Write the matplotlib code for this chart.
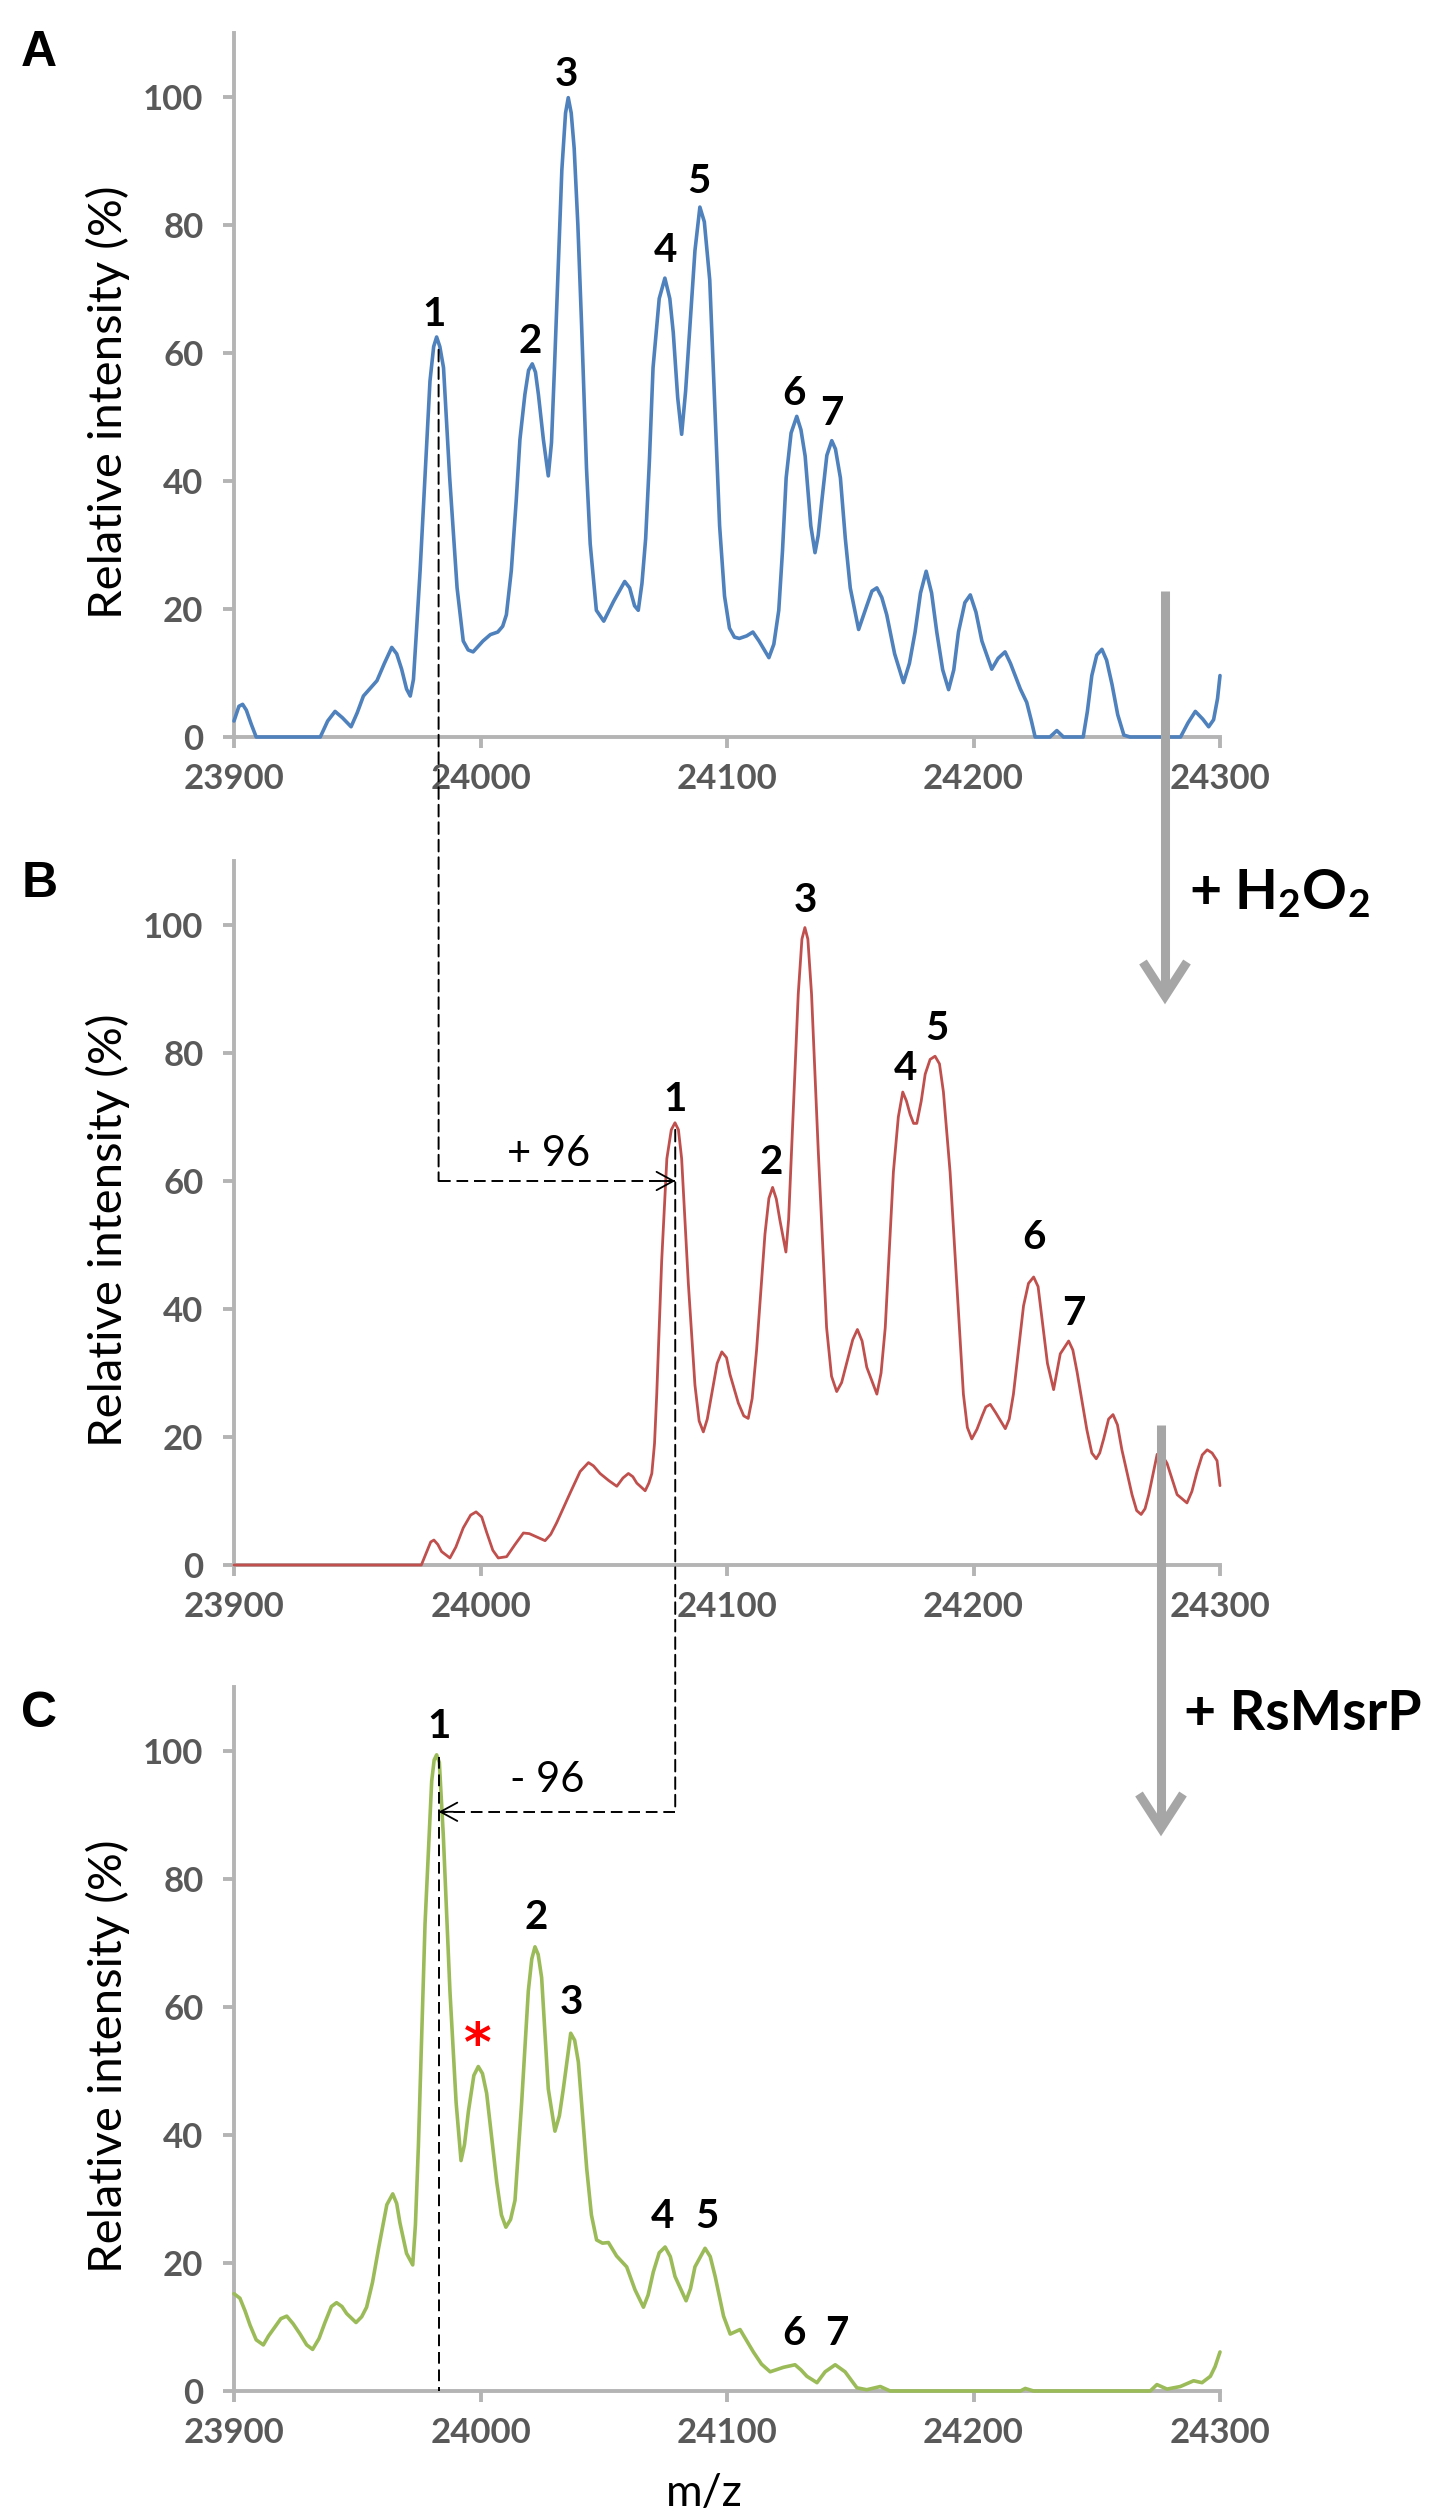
import matplotlib
matplotlib.use('Agg')
import matplotlib.pyplot as plt
from matplotlib.lines import Line2D
from matplotlib.patches import ConnectionPatch
from matplotlib import font_manager as fm

# ---------------- data ----------------
x_ticks = [23900, 24000, 24100, 24200, 24300]
y_ticks = [0, 20, 40, 60, 80, 100]
y_tick_labels = ['0', '20', '40', '60', '80', '100']
x_tick_labels = ['23900', '24000', '24100', '24200', '24300']

# Panel A (control, blue)
A_mz = [23900, 23902, 23903.5, 23905, 23907, 23909, 23935, 23938, 23941, 23944, 23947.5, 23950,
        23952.5, 23958, 23961, 23964, 23966, 23968, 23970, 23971.5, 23972.8, 23974, 23975.5, 23977,
        23979.5, 23981, 23982.2, 23983.5, 23985, 23987.5, 23990.5, 23993, 23995, 23997, 24001, 24004,
        24007, 24009, 24010.5, 24012.5, 24014.5, 24016, 24018, 24019.5, 24021, 24022.3, 24023.5,
        24025.5, 24027.5, 24028.8, 24030, 24031.5, 24033, 24034.5, 24035.6, 24036.8, 24038, 24039.5,
        24041, 24043, 24044.5, 24047, 24050, 24054, 24058.5, 24060.5, 24062.5, 24064, 24065.5, 24067,
        24068.5, 24070, 24072.5, 24074.8, 24076.8, 24078.2, 24080, 24081.6, 24083.2, 24085, 24087,
        24089, 24090.8, 24093, 24095, 24097, 24099, 24101, 24103, 24105, 24108, 24110.5, 24113, 24117,
        24119, 24121, 24122.5, 24124, 24126, 24128.3, 24130, 24131.7, 24134, 24135.7, 24137, 24138.5,
        24140.5, 24142.5, 24144, 24146, 24148, 24150, 24153.4, 24156.7, 24158.8, 24160.8, 24162.8,
        24164.8, 24168, 24171.6, 24174, 24176.3, 24178.5, 24180.8, 24183, 24185.1, 24187.5, 24189.9,
        24192, 24193.9, 24196.5, 24198.7, 24201, 24203.4, 24207.4, 24210, 24212.8, 24215, 24216.9,
        24219, 24221.6, 24223.5, 24225, 24231, 24233.8, 24236.5, 24244.5, 24246.2, 24248, 24250,
        24252.1, 24254, 24256.2, 24258.5, 24261, 24263.5, 24284, 24287, 24290, 24293, 24295.4, 24297.4,
        24299, 24300]
A_int = [2.5, 4.8, 5.1, 4.2, 2.0, 0, 0, 2.5, 4.0, 3.0, 1.6, 3.8,
         6.4, 8.8, 11.5, 14.0, 13.0, 10.6, 7.5, 6.4, 9.0, 16.4, 26, 37.0,
         55.6, 61.0, 62.5, 61.0, 57.7, 40.5, 23.3, 15.0, 13.6, 13.3, 15.0, 16.0,
         16.4, 17.3, 19.1, 26, 37.0, 46.5, 53.5, 57.3, 58.3, 57.0, 53.5,
         46.5, 40.8, 46.0, 57.6, 73, 88.6, 97.5, 99.9, 97.5, 92.0, 80,
         64.5, 42, 30.2, 19.8, 18.1, 21.2, 24.3, 23.3, 20.5, 19.8, 24, 31,
         43, 57.7, 68.5, 71.7, 68.5, 63.2, 53, 47.3, 54, 64.5, 76,
         82.8, 80.5, 71.4, 52, 33, 22, 17, 15.6, 15.4, 15.8, 16.4, 15.0, 12.4,
         14.5, 19.8, 29, 40.5, 47.5, 50.1, 48, 43.9, 33, 28.8, 31.5, 37.0,
         44, 46.3, 45, 40.5, 31, 23.3, 16.8, 20.5, 22.8, 23.3, 21.8,
         19.1, 13, 8.5, 11.5, 16.4, 22.5, 25.9, 22.5, 16.4, 10.5, 7.4,
         10.5, 16.4, 21, 22.2, 19.5, 15.0, 10.6, 12.3, 13.3, 11.5, 9.6,
         7.5, 5.4, 2.5, 0, 0, 1.0, 0, 0, 4, 9.6, 12.8,
         13.7, 12.0, 8.2, 3.5, 0.3, 0, 0, 2.2, 4.0, 2.8, 1.6, 2.7,
         6, 9.6]

# Panel B (+ H2O2, red)
B_mz = [23900, 23976, 23978.2, 23979.8, 23981.1, 23982.7, 23984.2, 23987.6, 23990, 23993, 23996,
        23998.2, 24000.5, 24002.5, 24005, 24007.2, 24010.6, 24014, 24017.4, 24019.8, 24022.1, 24026.2,
        24028.5, 24030.9, 24036.3, 24040.4, 24043.8, 24045.8, 24048.5, 24052, 24055.3, 24057.8, 24060,
        24061.8, 24063.4, 24066.8, 24068.3, 24069.5, 24070.6, 24071.5, 24073.5, 24075.6, 24077.4,
        24078.9, 24080.3, 24081.6, 24084.3, 24087.0, 24088.7, 24090.4, 24092, 24093.8, 24096, 24097.9,
        24099.8, 24101.2, 24104.6, 24106.8, 24108.6, 24110.2, 24112.0, 24115.4, 24117, 24118.5, 24120,
        24121.5, 24123.9, 24125, 24126.2, 24128.9, 24130.4, 24131.6, 24132.8, 24134.3, 24137.0,
        24140.4, 24142.4, 24144.5, 24146.5, 24148.6, 24151, 24152.9, 24154.8, 24156.7, 24160.8,
        24162.5, 24164.2, 24167.5, 24169.5, 24171.3, 24172.8, 24174.3, 24175.7, 24177.0, 24178.8,
        24180.4, 24182.4, 24184.4, 24186.2, 24187.8, 24190.5, 24193.2, 24195.9, 24197.5, 24199.3,
        24201.4, 24203.4, 24205, 24206.8, 24209, 24212.9, 24214.5, 24216.2, 24220.3, 24222.3, 24224.4,
        24226.2, 24227.8, 24230, 24232.5, 24234, 24235.2, 24238.6, 24240.3, 24242.0, 24246.0, 24248,
        24249.8, 24251.2, 24252.8, 24254.8, 24256.6, 24258.4, 24260.2, 24264.3, 24266.2, 24268.0,
        24269.6, 24271.1, 24274.5, 24276.4, 24278.5, 24282.6, 24286.6, 24288.6, 24290.7, 24292.8,
        24294.8, 24296.8, 24298.8, 24300]
B_int = [0, 0, 2.1, 3.6, 3.9, 3.2, 2.1, 1.1, 2.8, 5.8, 7.8,
         8.3, 7.5, 5.1, 2.3, 1.1, 1.3, 3.2, 5.0, 4.9, 4.5, 3.8,
         4.8, 6.6, 11.2, 14.6, 16.0, 15.5, 14.3, 13.2, 12.3, 13.6, 14.3,
         13.8, 12.8, 11.6, 12.8, 14.3, 19, 26.7, 47.5, 63.5, 68.0,
         69.1, 68.0, 63.5, 44.1, 28.1, 22.5, 20.8, 22.8, 26.7, 31.5, 33.3,
         32.4, 29.8, 25.3, 23.3, 22.9, 26, 33.6, 51.7, 57.3, 59.0, 57.2,
         53.8, 48.9, 54, 64.9, 89.2, 97.8, 99.6, 97.8, 89.2, 64.9,
         37.1, 29.5, 27.1, 28.5, 31.6, 35.2, 36.8, 35.0, 30.9, 26.7,
         30, 37.1, 61.4, 70, 73.9, 72.5, 70.4, 69.0, 69.0, 72.5,
         76.7, 79.0, 79.5, 78.3, 73.9, 61.4, 44.0, 26.7, 21.5, 19.7,
         21.2, 23.2, 24.7, 25.1, 23.8, 21.3, 22.8, 26.7, 40.5, 44.0, 45.0,
         43.5, 38.5, 31.5, 27.4, 30.5, 33.0, 35.0, 33.6, 30.2, 21.1, 17.5,
         16.6, 17.5, 19.7, 22.8, 23.5, 21.9, 18.0, 11.0, 8.5, 7.9,
         8.8, 11.0, 17.3, 17.2, 15.9, 11.0, 9.7, 11.5, 14.6, 17.2,
         18.0, 17.5, 16.3, 12.4]

# Panel C (+ RsMsrP, green)
C_mz = [23900, 23902.4, 23904.5, 23906.5, 23909, 23911.9, 23914, 23916.6, 23919, 23921.4, 23924,
        23926.8, 23929.5, 23931.9, 23934.5, 23936.9, 23939.5, 23941.6, 23943.8, 23945.7, 23949.5,
        23951.8, 23953.8, 23956.2, 23958.6, 23962.0, 23964.4, 23966, 23967.3, 23970.0, 23972.5,
        23973.6, 23974.8, 23977.5, 23980.2, 23981.2, 23982.2, 23983.3, 23984.9, 23987.6, 23990.1,
        23992.1, 23993.5, 23995.1, 23997.3, 23999.1, 24000.8, 24002.5, 24006.6, 24008.5, 24010.3,
        24012.2, 24014.0, 24016.7, 24019.4, 24020.8, 24022.1, 24023.4, 24024.8, 24027.5, 24030.2,
        24032, 24033.6, 24036.6, 24038.2, 24039.7, 24043.1, 24045, 24047.1, 24049.5, 24051.9, 24055.2,
        24059.3, 24062.7, 24066.1, 24068, 24070.1, 24072.5, 24074.9, 24077, 24078.9, 24083.4, 24085.2,
        24087.0, 24091.1, 24093.2, 24095.2, 24098.6, 24101.3, 24105.3, 24110.7, 24114, 24117.5,
        24122.9, 24127.6, 24130, 24132.4, 24136.5, 24139.8, 24143.9, 24147.9, 24152.7, 24156.7,
        24162.2, 24166.2, 24219, 24221, 24224.4, 24271.7, 24274.4, 24278.5, 24283.9, 24289.3, 24292.7,
        24296.1, 24298, 24300]
C_int = [15.2, 14.5, 12.5, 10.3, 8.0, 7.2, 8.6, 10.0, 11.3, 11.7, 10.5,
         8.9, 7.2, 6.5, 8.2, 10.7, 13.2, 13.8, 13.2, 12.1, 10.7,
         11.6, 13.1, 17.0, 22.2, 29.1, 30.8, 29.3, 26.3, 21.5, 19.7,
         26, 38.2, 73.0, 95.3, 98.6, 99.4, 98.2, 86.9, 62.5, 45.1,
         36.0, 38.5, 43.7, 49.3, 50.7, 49.6, 46.5, 32.6, 27.5, 25.6,
         26.8, 29.8, 45.1, 62.5, 67.5, 69.4, 68.2, 64.6, 47.2, 40.6,
         43, 47.2, 55.9, 54.8, 51.4, 34.7, 27.5, 23.6, 23.1, 23.2, 21.1,
         19.4, 15.8, 13.1, 15, 18.6, 21.6, 22.5, 21, 17.9, 14.1, 16,
         19.4, 22.3, 21, 17.9, 11.7, 8.9, 9.6, 6.1, 4.2, 3.0,
         3.7, 4.1, 3.3, 2.3, 1.3, 3.0, 4.1, 3.0, 0.5, 0.2,
         0.7, 0, 0, 0.4, 0, 0, 1.0, 0.3, 0.7, 1.6, 1.3,
         2.3, 3.8, 6.1]

# peak numbering labels (m/z, intensity of label centre)
peak_names = ['1', '2', '3', '4', '5', '6', '7']
A_label_mz = [23981, 24020, 24035, 24075, 24088.5, 24127, 24142.5]
A_label_y = [66.5, 62.3, 104, 76.6, 87.4, 54.2, 51.1]
B_label_mz = [24079, 24118, 24132, 24172.5, 24185, 24224.5, 24240.5]
B_label_y = [73.3, 63.5, 104.4, 78.1, 84.4, 51.7, 39.9]
C_label_mz = [23983, 24022.5, 24037, 24074, 24092, 24127, 24144.5]
C_label_y = [104.3, 74.5, 61.3, 27.8, 27.8, 9.5, 9.5]

# mass-shift annotation values
peak1_A_mz = 23983
peak1_B_mz = 24079
shift_B_level = 60
shift_C_level = 90.5

# ---------------- fonts ----------------
def has_font(name):
    try:
        fm.findfont(fm.FontProperties(family=name), fallback_to_default=False)
        return True
    except Exception:
        return False

SANS = 'Lato' if has_font('Lato') else 'DejaVu Sans'
plt.rcParams['font.family'] = [SANS, 'DejaVu Sans']
plt.rcParams['mathtext.fontset'] = 'custom'
plt.rcParams['mathtext.rm'] = SANS + ':bold'
plt.rcParams['mathtext.it'] = SANS + ':bold'
plt.rcParams['mathtext.bf'] = SANS + ':bold'
plt.rcParams['mathtext.default'] = 'rm'

# ---------------- figure / layout ----------------
W, H, DPI = 1434, 2516, 100
fig = plt.figure(figsize=(W / DPI, H / DPI), dpi=DPI, facecolor='white')

AX_L, AX_R, AX_H = 234, 1220, 704
zero_rows = [737, 1565, 2391]
AXIS_GRAY = '#B4B4B4'
TICK_TXT = '#595959'
colors = ['#4F81BD', '#C0504D', '#9BBB59']
lws = [2.6, 2.0, 2.6]

axes = []
for y0 in zero_rows:
    ax = fig.add_axes([AX_L / W, 1 - y0 / H, (AX_R - AX_L) / W, AX_H / H])
    ax.patch.set_visible(False)
    ax.set_xlim(23900, 24300)
    ax.set_ylim(0, 110)
    ax.spines['top'].set_visible(False)
    ax.spines['right'].set_visible(False)
    for s in ('left', 'bottom'):
        ax.spines[s].set_color(AXIS_GRAY)
        ax.spines[s].set_linewidth(2.8)
    ax.set_xticks(x_ticks)
    ax.set_xticklabels(x_tick_labels)
    ax.set_yticks(y_ticks)
    ax.set_yticklabels(y_tick_labels)
    ax.tick_params(axis='both', direction='out', length=8, width=2.8, color=AXIS_GRAY,
                   labelcolor=TICK_TXT, labelsize=25)
    ax.tick_params(axis='y', pad=14)
    ax.tick_params(axis='x', pad=11)
    for lbl in ax.get_xticklabels() + ax.get_yticklabels():
        lbl.set_fontweight('bold')
    ax.text(-0.128, 0.475, 'Relative intensity (%)', transform=ax.transAxes, rotation=90,
            ha='center', va='center', fontsize=34, color='black')
    axes.append(ax)

axA, axB, axC = axes
series = [(A_mz, A_int), (B_mz, B_int), (C_mz, C_int)]
for ax, (mz, it), c, lw in zip(axes, series, colors, lws):
    ax.plot(mz, it, color=c, lw=lw, clip_on=False, zorder=3, solid_joinstyle='round',
            solid_capstyle='round')

labels = [(A_label_mz, A_label_y), (B_label_mz, B_label_y), (C_label_mz, C_label_y)]
for ax, (lx, ly) in zip(axes, labels):
    for name, x, y in zip(peak_names, lx, ly):
        ax.text(x, y, name, ha='center', va='center_baseline', fontsize=29,
                fontweight='bold', color='black')

# red asterisk in C
axC.text(23998.7, 51.5, '*', ha='center', va='baseline', fontsize=38, fontweight='bold',
         color='#FF0000', family='DejaVu Sans')

# shift texts
axB.text(24027.8, 64.7, '+ 96', ha='center', va='center_baseline', fontsize=30, color='black')
axC.text(24027.0, 96.0, '- 96', ha='center', va='center_baseline', fontsize=30, color='black')

# ---------------- dashed mass-shift connectors ----------------
DASH = (0, (6, 3))
def connect(axa, pa, axb, pb):
    con = ConnectionPatch(xyA=pa, coordsA=axa.transData, xyB=pb, coordsB=axb.transData,
                          linestyle=DASH, color='black', lw=1.4, arrowstyle='-',
                          shrinkA=0, shrinkB=0, zorder=5)
    fig.add_artist(con)

connect(axA, (peak1_A_mz, 60.5), axB, (peak1_A_mz, shift_B_level))
axB.plot([peak1_A_mz, peak1_B_mz], [shift_B_level, shift_B_level], ls=DASH, color='black',
         lw=1.4, zorder=5)
axB.annotate('', xy=(peak1_B_mz, shift_B_level), xytext=(peak1_B_mz - 6, shift_B_level),
             arrowprops=dict(arrowstyle='->,head_length=0.55,head_width=0.3', color='black',
                             lw=1.3, shrinkA=0, shrinkB=0, mutation_scale=22))
connect(axB, (peak1_B_mz, 68), axC, (peak1_B_mz, shift_C_level))
axC.plot([peak1_B_mz, peak1_A_mz], [shift_C_level, shift_C_level], ls=DASH, color='black',
         lw=1.4, zorder=5)
axC.annotate('', xy=(peak1_A_mz, shift_C_level), xytext=(peak1_A_mz + 6, shift_C_level),
             arrowprops=dict(arrowstyle='->,head_length=0.55,head_width=0.3', color='black',
                             lw=1.3, shrinkA=0, shrinkB=0, mutation_scale=22))
axC.plot([peak1_A_mz, peak1_A_mz], [99, 0], ls=DASH, color='black', lw=1.4, zorder=5,
         clip_on=False)

# ---------------- gray process arrows ----------------
ARROW_GRAY = '#A6A6A6'
def gray_arrow(x, y_top, y_tip):
    fx = lambda v: v / W
    fy = lambda v: 1 - v / H
    fig.add_artist(Line2D([fx(x), fx(x)], [fy(y_top), fy(y_tip - 10)], transform=fig.transFigure,
                          color=ARROW_GRAY, lw=6.5, solid_capstyle='butt', zorder=1))
    fig.add_artist(Line2D([fx(x - 22), fx(x), fx(x + 22)],
                          [fy(y_tip - 42), fy(y_tip - 8), fy(y_tip - 42)],
                          transform=fig.transFigure, color=ARROW_GRAY, lw=6.5,
                          solid_capstyle='butt', solid_joinstyle='miter', zorder=1))

gray_arrow(1165, 591, 1004)
gray_arrow(1161, 1425, 1836)

fig.text(1189 / W, 1 - 894 / H, r'+ H$_2$O$_2$', ha='left', va='center', fontsize=40,
         fontweight='bold', color='black')
fig.text(1184 / W, 1 - 1714 / H, '+ RsMsrP', ha='left', va='center', fontsize=40,
         fontweight='bold', color='black')

# ---------------- panel letters and x label ----------------
for letter, (px, py) in zip(['A', 'B', 'C'], [(39, 53), (40, 884), (39, 1714)]):
    fig.text(px / W, 1 - py / H, letter, ha='center', va='center', fontsize=36,
             fontweight='bold', family=['Liberation Sans', 'DejaVu Sans'], color='black')

fig.text(704 / W, 1 - 2494 / H, 'm/z', ha='center', va='center', fontsize=32, color='black')

fig.savefig('out.png', dpi=DPI, facecolor='white')
